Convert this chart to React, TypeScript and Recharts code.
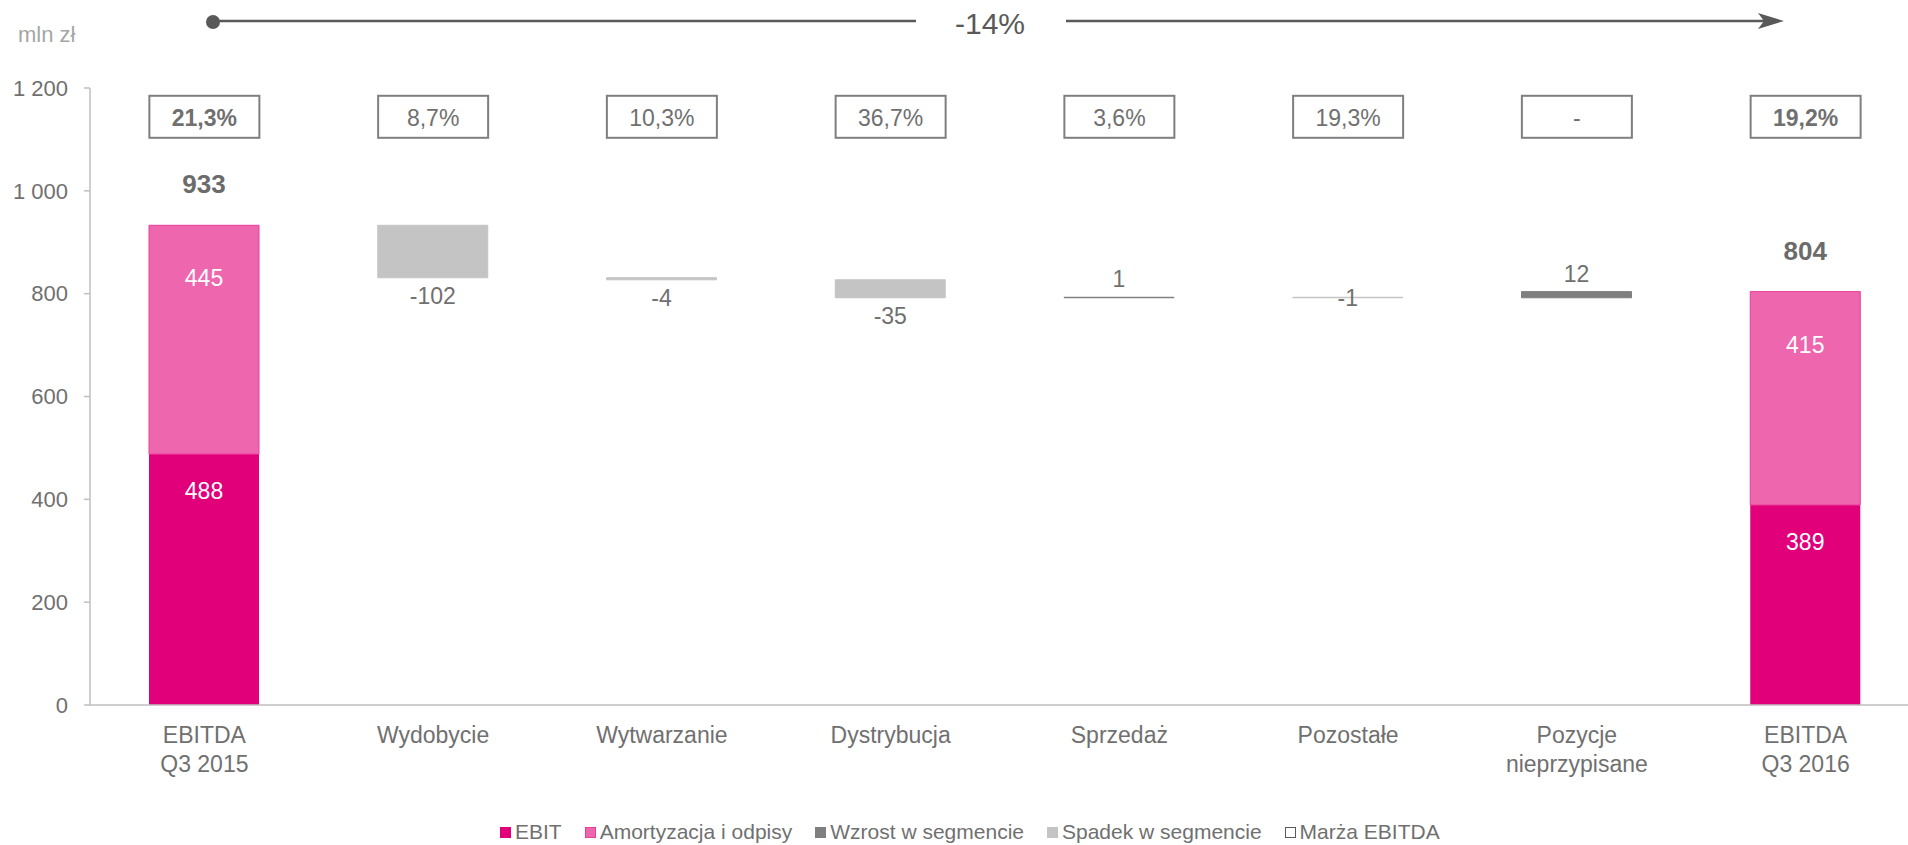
import React from "react";
import {
  ComposedChart,
  Bar,
  Scatter,
  XAxis,
  YAxis,
  LabelList,
} from "recharts";

const categories = [
  "EBITDA\nQ3 2015",
  "Wydobycie",
  "Wytwarzanie",
  "Dystrybucja",
  "Sprzedaż",
  "Pozostałe",
  "Pozycje\nnieprzypisane",
  "EBITDA\nQ3 2016",
];
const ebit = [488, 0, 0, 0, 0, 0, 0, 389];
const amortyzacja = [445, 0, 0, 0, 0, 0, 0, 415];
const segmentDelta = [0, -102, -4, -35, 1, -1, 12, 0];
const ebitdaMargin = ["21,3%", "8,7%", "10,3%", "36,7%", "3,6%", "19,3%", "-", "19,2%"];
const yTicks = [0, 200, 400, 600, 800, 1000, 1200];

const MAGENTA = "#E2007A";
const PINK = "#EE66AE";
const UP = "#7F7F7F";
const DOWN = "#C4C4C4";
const TEXT = "#707070";
const FONT = "'Liberation Sans', Arial, sans-serif";

// row of margin boxes sits above the bars, on the value axis
const BOX_ROW = 1144;

// waterfall table: invisible base + stacked pieces
let level = 0;
const rows = categories.map((name, i) => {
  const isTotal = ebit[i] + amortyzacja[i] > 0;
  const d = segmentDelta[i];
  let base = 0;
  if (isTotal) {
    level = ebit[i] + amortyzacja[i];
  } else {
    base = Math.min(level, level + d);
    level += d;
  }
  return {
    name,
    isTotal,
    total: isTotal ? ebit[i] + amortyzacja[i] : 0,
    base,
    ebit: ebit[i],
    amort: amortyzacja[i],
    wzrost: d > 0 ? d : 0,
    spadek: d < 0 ? -d : 0,
    margin: ebitdaMargin[i],
    box: BOX_ROW,
  };
});

const fmtTick = (v: number) => String(v).replace(/\B(?=(\d{3})+(?!\d))/g, " ");

function CategoryTick({ x, y, payload }: any) {
  const lines = String(payload.value).split("\n");
  return (
    <text x={x} y={y} textAnchor="middle" fill={TEXT} fontSize={23} fontFamily={FONT}>
      {lines.map((l, i) => (
        <tspan key={i} x={x} dy={i === 0 ? 30 : 29}>
          {l}
        </tspan>
      ))}
    </text>
  );
}

function MarginBox({ cx, cy, payload }: any) {
  if (cx == null || cy == null) return null;
  return (
    <g>
      <rect x={cx - 55} y={cy - 21} width={110} height={42} fill="#fff" stroke="#7F7F7F" strokeWidth={2} />
      <text
        x={cx}
        y={cy + 1}
        textAnchor="middle"
        dominantBaseline="central"
        fill={TEXT}
        fontSize={23}
        fontWeight={payload.isTotal ? 700 : 400}
        fontFamily={FONT}
      >
        {payload.margin}
      </text>
    </g>
  );
}

const innerLabel = (offset: number) => (props: any) => {
  const { x, y, width, value } = props;
  if (!value) return null;
  return (
    <text
      x={x + width / 2}
      y={y + offset}
      textAnchor="middle"
      dominantBaseline="central"
      fill="#fff"
      fontSize={23}
      fontFamily={FONT}
    >
      {value}
    </text>
  );
};

function TotalLabel(props: any) {
  const { x, y, width, value } = props;
  if (!value) return null;
  return (
    <text
      x={x + width / 2}
      y={y - 41}
      textAnchor="middle"
      dominantBaseline="central"
      fill="#6B6B6B"
      fontSize={26}
      fontWeight={700}
      fontFamily={FONT}
    >
      {value}
    </text>
  );
}

function UpLabel(props: any) {
  const { x, y, width, value } = props;
  if (!value) return null;
  return (
    <text x={x + width / 2} y={y - 18} textAnchor="middle" dominantBaseline="central" fill={TEXT} fontSize={23} fontFamily={FONT}>
      {value}
    </text>
  );
}

function DownLabel(props: any) {
  const { x, y, width, height, value } = props;
  if (!value) return null;
  // very small drops get their label on the line itself
  const ly = value < 2 ? y + height / 2 : y + height + 18;
  return (
    <text x={x + width / 2} y={ly} textAnchor="middle" dominantBaseline="central" fill={TEXT} fontSize={23} fontFamily={FONT}>
      {-value}
    </text>
  );
}

const legendItems = [
  { label: "EBIT", fill: MAGENTA, stroke: MAGENTA },
  { label: "Amortyzacja i odpisy", fill: PINK, stroke: "#E83E9A" },
  { label: "Wzrost w segmencie", fill: UP, stroke: UP },
  { label: "Spadek w segmencie", fill: DOWN, stroke: DOWN },
  { label: "Marża EBITDA", fill: "#fff", stroke: "#595959" },
];

export default function App() {
  return (
    <div
      style={{
        position: "absolute",
        left: 0,
        top: 0,
        width: 1908,
        height: 845,
        overflow: "hidden",
        background: "#fff",
        fontFamily: FONT,
      }}
    >
      <ComposedChart
        width={1920}
        height={845}
        data={rows}
        margin={{ top: 88, right: 0, bottom: 0, left: 0 }}
        barSize={110}
      >
        <XAxis
          dataKey="name"
          interval={0}
          height={140}
          tickLine={false}
          axisLine={{ stroke: "#BFBFBF", strokeWidth: 1.5 }}
          tick={<CategoryTick />}
        />
        <YAxis
          width={90}
          domain={[0, 1200]}
          ticks={yTicks}
          tickFormatter={fmtTick}
          tickSize={6}
          tickMargin={16}
          axisLine={{ stroke: "#BFBFBF", strokeWidth: 1.5 }}
          tickLine={{ stroke: "#BFBFBF", strokeWidth: 1.5 }}
          tick={{ fill: TEXT, fontSize: 22, fontFamily: FONT }}
        />
        <Bar dataKey="base" stackId="w" fill="transparent" isAnimationActive={false} />
        <Bar dataKey="ebit" stackId="w" fill={MAGENTA} isAnimationActive={false}>
          <LabelList dataKey="ebit" content={innerLabel(37)} />
        </Bar>
        <Bar dataKey="amort" stackId="w" fill={PINK} stroke="#E83E9A" strokeWidth={1} isAnimationActive={false}>
          <LabelList dataKey="amort" content={innerLabel(53)} />
          <LabelList dataKey="total" content={TotalLabel} />
        </Bar>
        <Bar dataKey="wzrost" stackId="w" fill={UP} stroke={UP} strokeWidth={1} isAnimationActive={false}>
          <LabelList dataKey="wzrost" content={UpLabel} />
        </Bar>
        <Bar dataKey="spadek" stackId="w" fill={DOWN} stroke={DOWN} strokeWidth={1} isAnimationActive={false}>
          <LabelList dataKey="spadek" content={DownLabel} />
        </Bar>
        <Scatter dataKey="box" shape={<MarginBox />} isAnimationActive={false} />
      </ComposedChart>

      {/* unit label and overall change arrow */}
      <svg
        width={1908}
        height={80}
        style={{ position: "absolute", left: 0, top: 0, pointerEvents: "none" }}
      >
        <text x={18} y={34} dominantBaseline="central" fill="#A6A6A6" fontSize={22} fontFamily={FONT}>
          mln zł
        </text>
        <circle cx={213} cy={22} r={7} fill="#595959" />
        <line x1={213} y1={21} x2={916} y2={21} stroke="#595959" strokeWidth={2.5} />
        <text x={990} y={23} textAnchor="middle" dominantBaseline="central" fill="#595959" fontSize={30} fontFamily={FONT}>
          -14%
        </text>
        <line x1={1066} y1={21} x2={1765} y2={21} stroke="#595959" strokeWidth={2.5} />
        <polygon points="1758,13 1784,21 1758,29 1764,21" fill="#595959" />
      </svg>

      <div
        style={{
          position: "absolute",
          left: 500,
          top: 820,
          display: "flex",
          alignItems: "center",
          gap: 23,
          fontSize: 21,
          color: TEXT,
          whiteSpace: "nowrap",
          lineHeight: "24px",
        }}
      >
        {legendItems.map((it) => (
          <div key={it.label} style={{ display: "flex", alignItems: "center", gap: 4 }}>
            <span
              style={{
                display: "inline-block",
                width: 9,
                height: 9,
                background: it.fill,
                border: `1px solid ${it.stroke}`,
              }}
            />
            <span>{it.label}</span>
          </div>
        ))}
      </div>
    </div>
  );
}
